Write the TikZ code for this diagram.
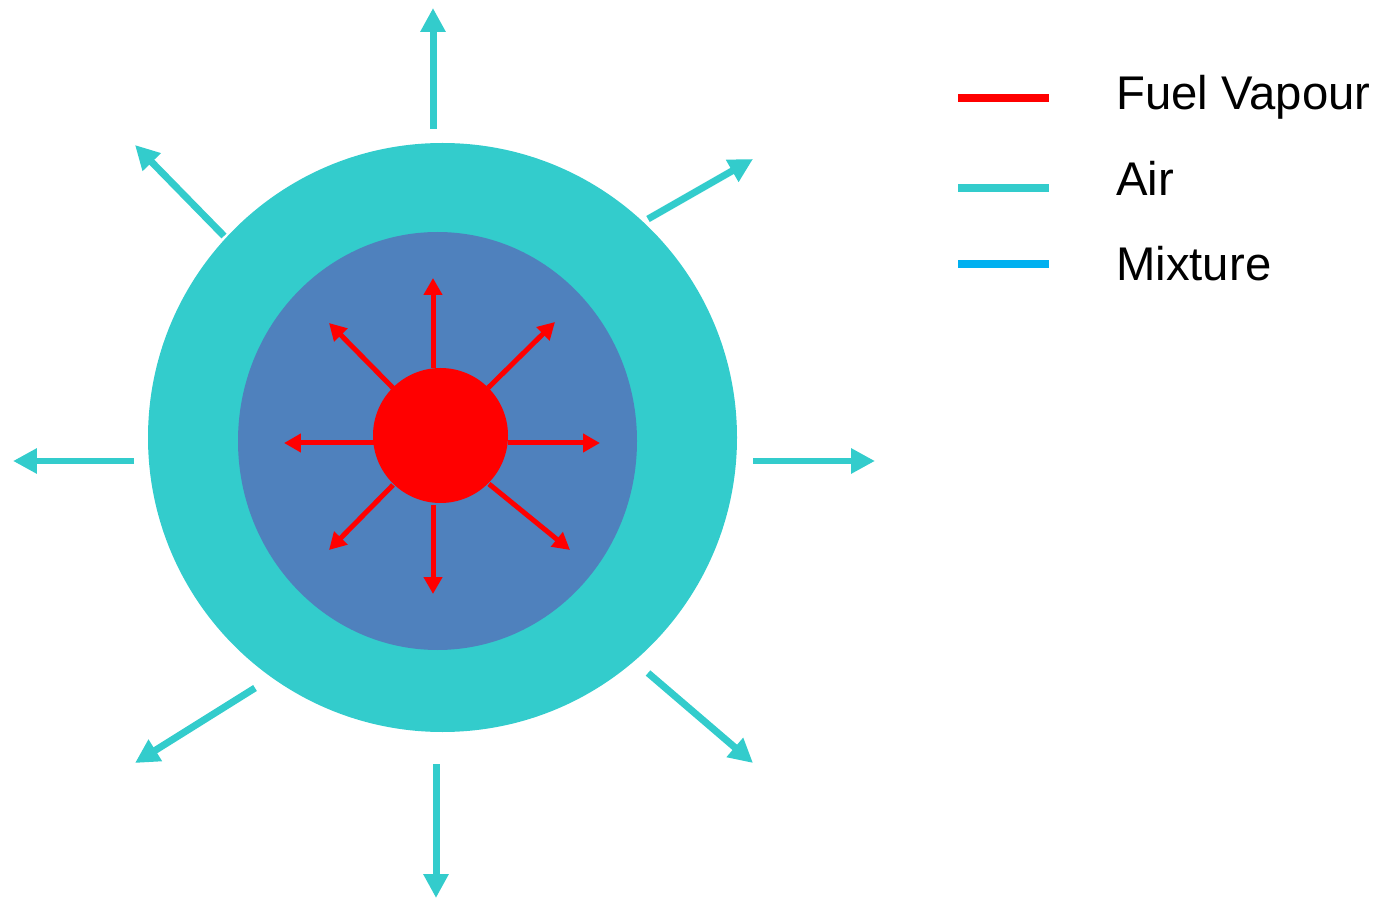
\documentclass[tikz,border=0pt]{standalone}
\usepackage{fontspec}
\setmainfont{Liberation Sans}
\usetikzlibrary{arrows.meta,shapes.geometric}
\definecolor{aircol}{HTML}{33CCCC}
\definecolor{mixcol}{HTML}{4F81BD}
\definecolor{fuelcol}{HTML}{FF0000}
\definecolor{mixleg}{HTML}{00B0F0}
\tikzset{
  airarrow/.style={draw=aircol, line width=7*0.569pt, -{Triangle[length=0.48cm,width=0.48cm]}, fill=aircol},
  fuelarrow/.style={draw=fuelcol, line width=5*0.569pt, -{Triangle[length=0.34cm,width=0.36cm]}, fill=fuelcol},
  legline/.style={line width=8*0.569pt},
  legtext/.style={anchor=base west, inner sep=0pt, font=\fontsize{26.9}{32}\selectfont}
}
\begin{document}
\begin{tikzpicture}[x=0.02cm,y=-0.02cm]
\useasboundingbox (0,0) rectangle (1390,898);
% discs
\node[circle, fill=aircol, minimum size=589*0.02cm, inner sep=0pt] (outer) at (442.5,437.5) {};
\node[ellipse, fill=mixcol, minimum width=399*0.02cm, minimum height=418*0.02cm, inner sep=0pt] (inner) at (437.5,441) {};
\node[circle, fill=fuelcol, minimum size=135*0.02cm, inner sep=0pt] (core) at (440.5,435.5) {};
% red arrows
\coordinate (rN0) at (433,368); \coordinate (rN1) at (433,278);
\coordinate (rS0) at (433,505); \coordinate (rS1) at (433,594);
\coordinate (rW0) at (374,443); \coordinate (rW1) at (284,443);
\coordinate (rE0) at (508,443); \coordinate (rE1) at (600,443);
\coordinate (rNW0) at (393,388); \coordinate (rNW1) at (329,323);
\coordinate (rNE0) at (488,388); \coordinate (rNE1) at (555,322);
\coordinate (rSW0) at (393,485); \coordinate (rSW1) at (329,550);
\coordinate (rSE0) at (489,484); \coordinate (rSE1) at (570,550);
\foreach \d in {N,S,W,E,NW,NE,SW,SE}{
  \draw[fuelarrow] (r\d0) -- (r\d1);
}
% cyan arrows
\coordinate (aN0) at (433,129); \coordinate (aN1) at (433,8);
\coordinate (aS0) at (436,764); \coordinate (aS1) at (436,898);
\coordinate (aW0) at (134,461); \coordinate (aW1) at (13,461);
\coordinate (aE0) at (753,461); \coordinate (aE1) at (875,461);
\coordinate (aNW0) at (224,236); \coordinate (aNW1) at (135,145);
\coordinate (aNE0) at (648,219); \coordinate (aNE1) at (753,159);
\coordinate (aSW0) at (255,688); \coordinate (aSW1) at (135,763);
\coordinate (aSE0) at (648,673); \coordinate (aSE1) at (753,763);
\foreach \d in {N,S,W,E,NW,NE,SW,SE}{
  \draw[airarrow] (a\d0) -- (a\d1);
}
% legend
\coordinate (l1a) at (958,98);  \coordinate (l1b) at (1049,98);
\coordinate (l2a) at (958,188); \coordinate (l2b) at (1049,188);
\coordinate (l3a) at (958,264); \coordinate (l3b) at (1049,264);
\draw[legline, fuelcol] (l1a) -- (l1b);
\draw[legline, aircol] (l2a) -- (l2b);
\draw[legline, mixleg] (l3a) -- (l3b);
\node[legtext] (t1) at (1116,110) {Fuel Vapour};
\node[legtext] (t2) at (1116,196) {Air};
\node[legtext] (t3) at (1116,281) {Mixture};
\end{tikzpicture}
\end{document}
